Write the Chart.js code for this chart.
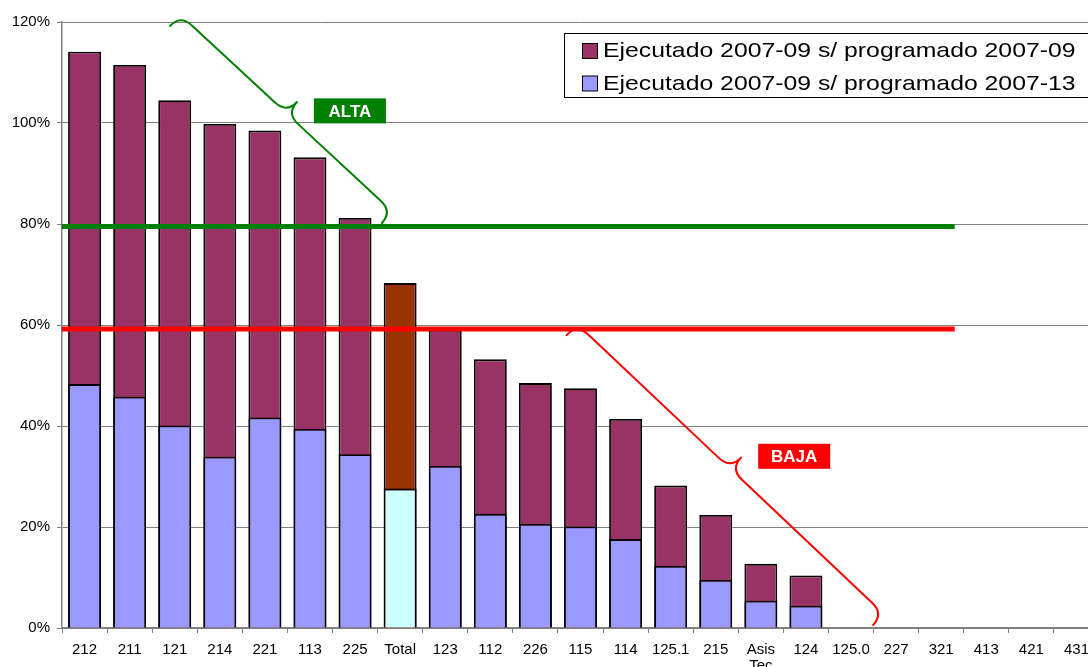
<!DOCTYPE html>
<html>
<head>
<meta charset="utf-8">
<script src="https://cdn.jsdelivr.net/npm/chart.js@4.4.0/dist/chart.umd.min.js"></script>
<style>
  html, body { margin: 0; padding: 0; background: #fff; overflow: hidden; }
</style>
</head>
<body>
<canvas id="grafico" width="1100" height="667"></canvas>
<script>
// categorias del eje X (Asis Tec va en dos lineas)
const categorias = ['212', '211', '121', '214', '221', '113', '225', 'Total', '123', '112', '226', '115', '114', '125.1', '215', 'Asis Tec', '124', '125.0', '227', '321', '413', '421', '431'];
// ejecutado 2007-09 sobre programado 2007-09 (%)
const ejecutadoSobre0709 = [114.1, 111.5, 104.5, 99.8, 98.5, 93.2, 81.2, 68.3, 59.0, 53.2, 48.5, 47.5, 41.4, 28.2, 22.4, 12.7, 10.4, null, null, null, null, null, null];
// ejecutado 2007-09 sobre programado 2007-13 (%)
const ejecutadoSobre0713 = [48.3, 45.8, 40.1, 33.9, 41.7, 39.4, 34.4, 27.6, 32.1, 22.6, 20.6, 20.1, 17.6, 12.3, 9.5, 5.4, 4.4, null, null, null, null, null, null];
const ticksEjeY = [0, 20, 40, 60, 80, 100, 120];
const umbralAlta = 79.5;
const umbralBaja = 59.2;

const etiquetas = categorias.map(c => c.includes(' ') ? c.split(' ') : c);

Chart.defaults.font.family = '"Liberation Sans", Arial, sans-serif';
Chart.defaults.color = '#000';

// lineas de umbral, llaves y cajas ALTA / BAJA
const anotaciones = {
  id: 'anotaciones',
  afterDatasetsDraw(chart) {
    const ctx = chart.ctx;
    const x = chart.scales.x, y = chart.scales.y;

    function umbral(valor, color) {
      const py = y.getPixelForValue(valor);
      ctx.save();
      ctx.strokeStyle = color;
      ctx.lineWidth = 5;
      ctx.beginPath();
      ctx.moveTo(chart.chartArea.left, py);
      ctx.lineTo(x.getPixelForValue(19.3), py);
      ctx.stroke();
      ctx.restore();
    }
    umbral(umbralAlta, '#008000');
    umbral(umbralBaja, '#FF0000');

    function llave(i1, v1, i2, v2, color) {
      const ax = x.getPixelForValue(i1), ay = y.getPixelForValue(v1);
      const bx = x.getPixelForValue(i2), by = y.getPixelForValue(v2);
      const L = Math.hypot(bx - ax, by - ay);
      const h = -15.4, r = 16, m = L / 2;
      ctx.save();
      ctx.translate(ax, ay);
      ctx.rotate(Math.atan2(by - ay, bx - ax));
      ctx.strokeStyle = color;
      ctx.lineWidth = 2;
      ctx.lineCap = 'round';
      ctx.beginPath();
      ctx.moveTo(0, 0);
      ctx.quadraticCurveTo(0, h, r, h);
      ctx.lineTo(m - r, h);
      ctx.quadraticCurveTo(m, h, m, 2 * h);
      ctx.moveTo(L, 0);
      ctx.quadraticCurveTo(L, h, L - r, h);
      ctx.lineTo(m + r, h);
      ctx.quadraticCurveTo(m, h, m, 2 * h);
      ctx.stroke();
      ctx.restore();
    }
    llave(1.895, 119.2, 6.595, 80.2, '#008000');
    llave(10.69, 58.0, 17.49, 0.6, '#FF0000');

    function caja(texto, i, v, color) {
      const cx = x.getPixelForValue(i), cy = y.getPixelForValue(v);
      ctx.save();
      ctx.fillStyle = color;
      ctx.fillRect(cx - 36, cy - 12.5, 72, 25);
      ctx.fillStyle = '#fff';
      ctx.font = 'bold 17px "Liberation Sans", Arial, sans-serif';
      ctx.textAlign = 'center';
      ctx.textBaseline = 'middle';
      ctx.fillText(texto, cx, cy + 1);
      ctx.restore();
    }
    caja('ALTA', 5.886, 102.4, '#008000');
    caja('BAJA', 15.74, 34.0, '#FF0000');
  },
  afterDraw(chart) {
    // leyenda con marco, arriba a la derecha
    const ctx = chart.ctx;
    ctx.save();
    ctx.fillStyle = '#fff';
    ctx.fillRect(564.5, 33.5, 560, 64);
    ctx.strokeStyle = '#000';
    ctx.lineWidth = 1;
    ctx.strokeRect(564.5, 33.5, 560, 64);
    const items = [chart.data.datasets[0], chart.data.datasets[1]];
    items.forEach((ds, k) => {
      const cy = 50.5 + k * 32.5;
      ctx.fillStyle = ds.legendColor;
      ctx.fillRect(582.5, cy - 7, 15, 15);
      ctx.strokeRect(582.5, cy - 7, 15, 15);
      ctx.save();
      ctx.translate(603, cy + 1);
      ctx.scale(1.18, 1);
      ctx.fillStyle = '#000';
      ctx.font = '21px "Liberation Sans", Arial, sans-serif';
      ctx.textBaseline = 'middle';
      ctx.fillText(ds.label, 0, 0);
      ctx.restore();
    });
    ctx.restore();
  }
};

const ctx = document.getElementById('grafico').getContext('2d');
const grafico = new Chart(ctx, {
  type: 'bar',
  data: {
    labels: etiquetas,
    datasets: [
      {
        label: 'Ejecutado 2007-09 s/ programado 2007-09',
        data: ejecutadoSobre0709,
        backgroundColor: categorias.map(c => c === 'Total' ? '#993300' : '#993366'),
        legendColor: '#993366',
        borderColor: '#000',
        borderWidth: 1.8,
        grouped: false,
        order: 2
      },
      {
        label: 'Ejecutado 2007-09 s/ programado 2007-13',
        data: ejecutadoSobre0713,
        backgroundColor: categorias.map(c => c === 'Total' ? '#CCFFFF' : '#9999FF'),
        legendColor: '#9999FF',
        borderColor: '#000',
        borderWidth: 1.8,
        grouped: false,
        order: 1
      }
    ]
  },
  options: {
    responsive: false,
    animation: false,
    devicePixelRatio: 1,
    layout: { padding: { top: 22, right: 1, left: 0, bottom: 0 } },
    datasets: { bar: { barPercentage: 0.73, categoryPercentage: 1 } },
    plugins: { legend: { display: false }, tooltip: { enabled: false } },
    scales: {
      x: {
        afterFit: s => { s.height = 39; },
        grid: { offset: true, drawOnChartArea: false, tickLength: 5, color: '#808080' },
        border: { color: '#808080', width: 1.5 },
        ticks: { padding: 9, maxRotation: 0, autoSkip: false, font: { size: 15, lineHeight: 1.05 } }
      },
      y: {
        min: 0,
        max: 120,
        afterFit: s => { s.width = 62; },
        afterBuildTicks: s => { s.ticks = ticksEjeY.map(v => ({ value: v })); },
        grid: { color: '#808080', tickLength: 5 },
        border: { color: '#808080', width: 1.5 },
        ticks: { padding: 7, font: { size: 15 }, callback: v => v + '%' }
      }
    }
  },
  plugins: [anotaciones]
});
</script>
</body>
</html>
